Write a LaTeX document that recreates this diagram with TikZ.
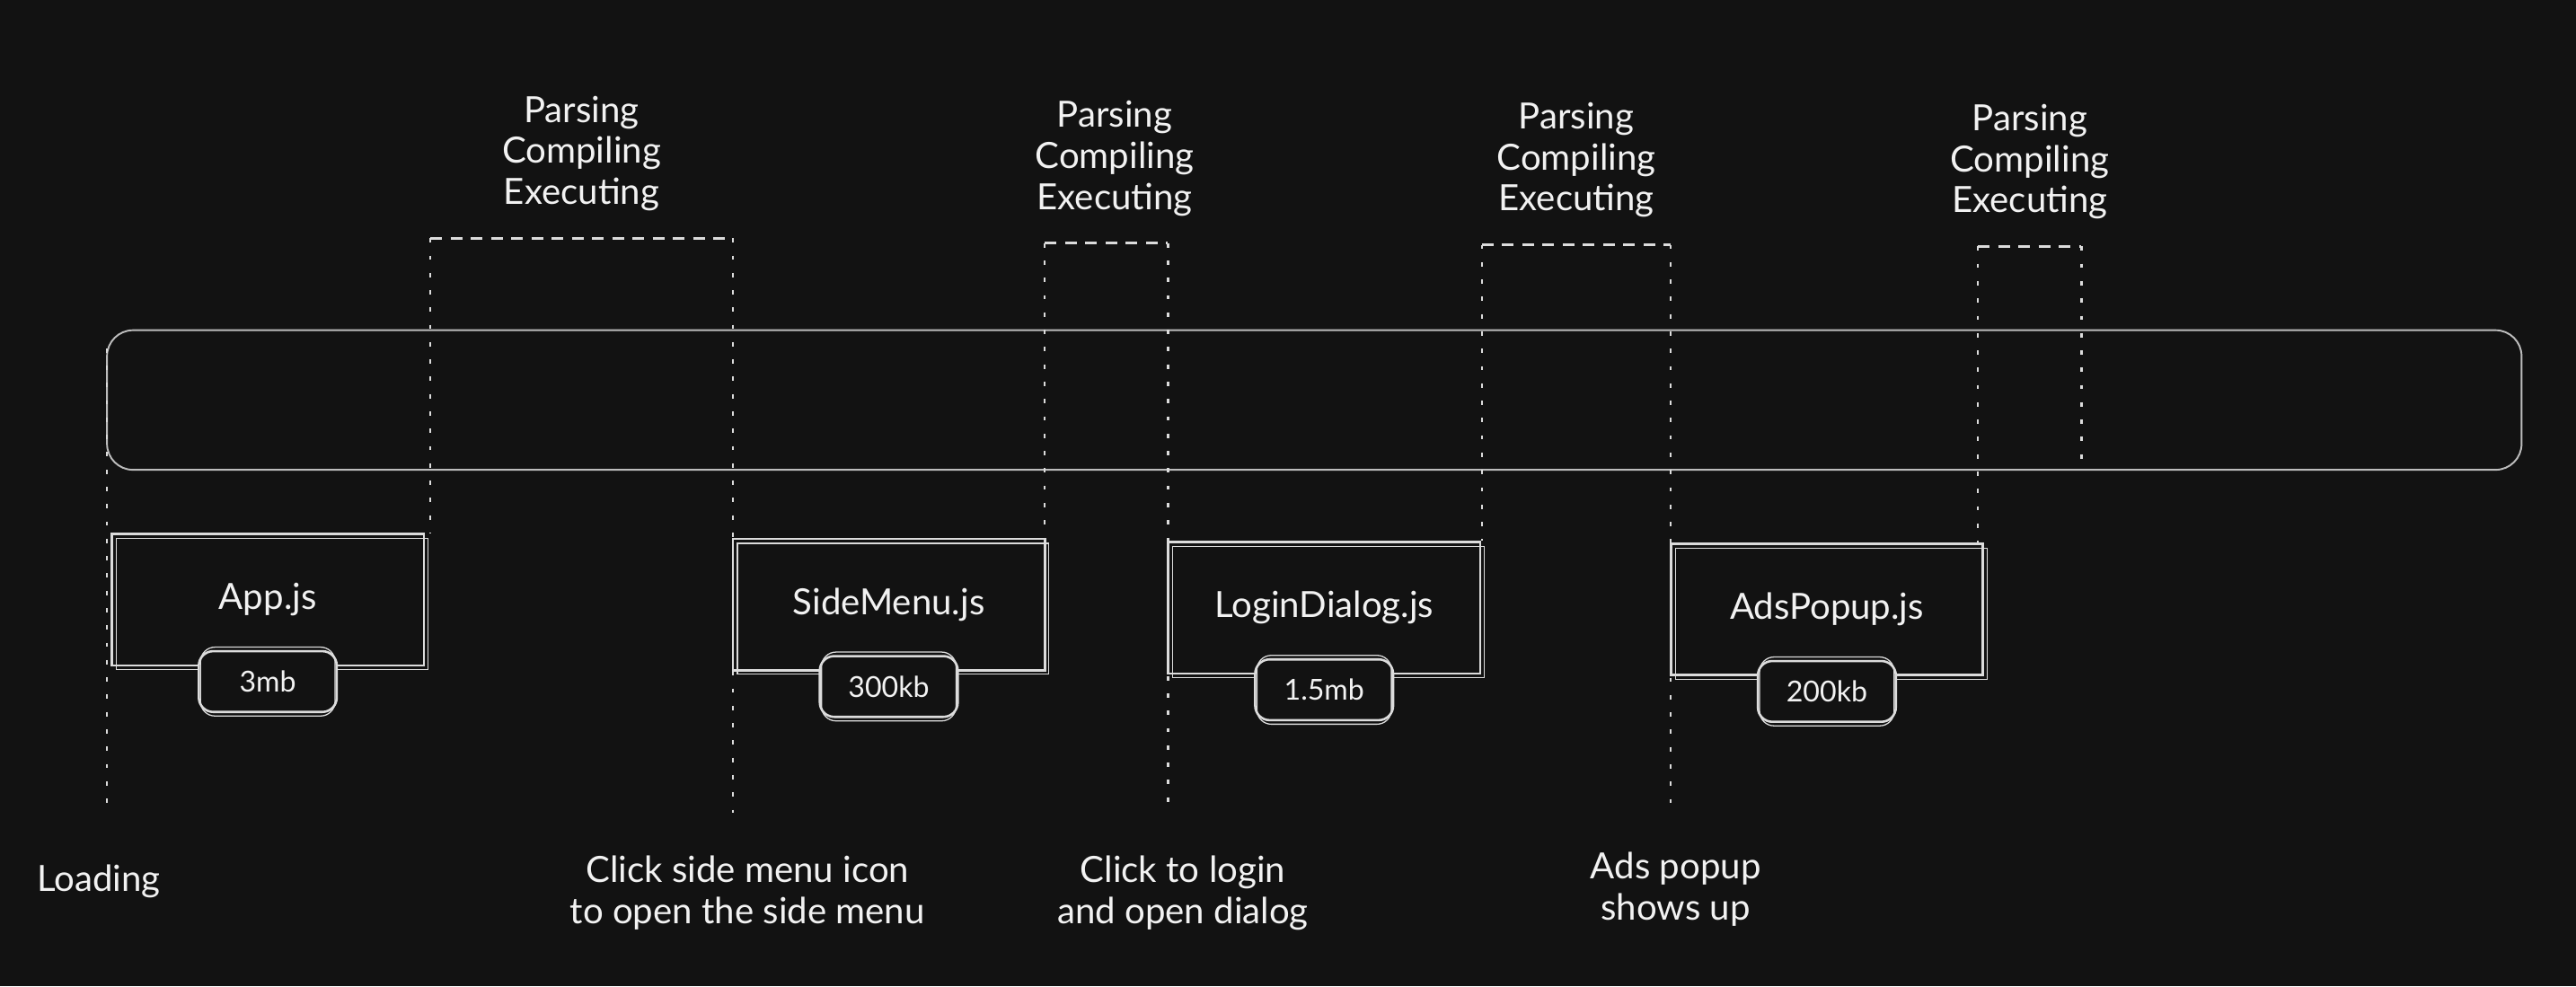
\documentclass[tikz,border=0pt]{standalone}
\usepackage{fontspec}
\setmainfont{Lato}
\usetikzlibrary{positioning}
\definecolor{bgcol}{HTML}{121212}
\definecolor{inkcol}{HTML}{DCDCDC}
\definecolor{trackcol}{HTML}{BDBDBD}
\definecolor{textcol}{HTML}{F2F2F2}

\begin{document}
\begin{tikzpicture}[x=0.02cm,y=-0.02cm,
	ink/.style={draw=inkcol,line width=0.8pt},
	filebox/.style={ink,minimum width=3.8cm,minimum height=1.6cm,text=textcol,font=\fontsize{12.5}{15}\selectfont},
	sizepill/.style={ink,fill=bgcol,rounded corners=5pt,minimum width=1.68cm,minimum height=0.74cm,text=textcol,font=\fontsize{10}{12}\selectfont},
	steplabel/.style={text=textcol,align=center,font=\fontsize{12.5}{14.2}\selectfont},
	guide/.style={draw=inkcol,line width=0.7pt,dash pattern=on 1.5pt off 4.5pt},
	phase/.style={draw=inkcol,line width=0.8pt,dash pattern=on 4pt off 3pt}]
	\fill[bgcol] (0,0) rectangle (1568,600.3);
	\node[draw=trackcol,line width=0.6pt,rounded corners=9pt,minimum width=29.4cm,minimum height=1.7cm] (track) at (800,243.5) {};
	\foreach \name/\x/\y/\file/\size in {app/163/365/App.js/3mb,sidemenu/541/368/SideMenu.js/300kb,login/806/370/LoginDialog.js/1.5mb,ads/1112/371/AdsPopup.js/200kb}{
		\node[filebox] (\name) at (\x,\y) {\file};
		\draw[ink,line width=0.4pt] ([shift={(2pt,-2pt)}]\name.north west) rectangle ([shift={(1pt,-1pt)}]\name.south east);
		\node[sizepill,below=-0.2cm of \name.south] (\name size) {\size};
		\draw[ink,line width=0.4pt,rounded corners=5pt] ([shift={(1pt,1pt)}]\name size.north west) rectangle ([shift={(-1pt,-1pt)}]\name size.south east);
	}
	\coordinate (w1s) at (262,145);
	\coordinate (w1e) at (446,145);
	\coordinate (w2s) at (636,148);
	\coordinate (w2e) at (711,148);
	\coordinate (w3s) at (902,149);
	\coordinate (w3e) at (1017,149);
	\coordinate (w4s) at (1204,150);
	\coordinate (w4e) at (1267,150);
	\coordinate (t0top) at (65,212);
	\coordinate (t0) at (65,495);
	\coordinate (t1) at (446,495);
	\coordinate (t2) at (711,495);
	\coordinate (t3) at (1017,495);
	\draw[phase] (w1s) -- (w1e) node[midway,above=0.2cm,steplabel] (parse1) {Parsing\\Compiling\\Executing};
	\draw[phase] (w2s) -- (w2e) node[midway,above=0.2cm,steplabel,xshift=0.1cm] (parse2) {Parsing\\Compiling\\Executing};
	\draw[phase] (w3s) -- (w3e) node[midway,above=0.2cm,steplabel] (parse3) {Parsing\\Compiling\\Executing};
	\draw[phase] (w4s) -- (w4e) node[midway,above=0.2cm,steplabel] (parse4) {Parsing\\Compiling\\Executing};
	\draw[guide] (w1s) -- (w1s |- app.north);
	\draw[guide] (w2s) -- (w2s |- sidemenu.north);
	\draw[guide] (w3s) -- (w3s |- login.north);
	\draw[guide] (w4s) -- (w4s |- ads.north);
	\draw[guide] (t0top) -- (t0);
	\draw[guide] (w1e) -- (t1);
	\draw[guide] (w2e) -- (t2);
	\draw[guide] (w3e) -- (t3);
	\draw[guide] (w4e) -- (w4e |- track.south);
	\node[steplabel,below=0.5cm of t0,xshift=-0.1cm] (loading) {Loading};
	\node[steplabel,below=0.4cm of t1,xshift=0.18cm] (openmenu) {Click side menu icon\\to open the side menu};
	\node[steplabel,below=0.4cm of t2,xshift=0.18cm] (openlogin) {Click to login\\and open dialog};
	\node[steplabel,below=0.35cm of t3,xshift=0.06cm] (showads) {Ads popup\\shows up};
\end{tikzpicture}
\end{document}
